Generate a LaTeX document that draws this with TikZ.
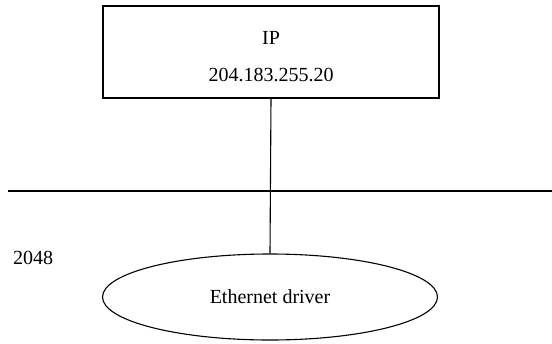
\documentclass[tikz,border=0pt]{standalone}
\usepackage{fontspec}
\setmainfont{Liberation Serif}
\usepackage{tikz}
\usetikzlibrary{shapes.geometric}

\tikzset{
  wire/.style={line width=1.1pt},
  lbl/.style={font=\fontsize{20}{24}\selectfont, inner sep=0pt}
}

\begin{document}
\begin{tikzpicture}[x=1pt, y=-1pt]
\useasboundingbox (0, 0) rectangle (552, 343);
% IP layer box
\node[draw, wire, minimum width=336pt, minimum height=92pt] (ipbox) at (271, 52) {};
\node[lbl] (iptext) at (271, 38) {IP};
\node[lbl] (ipaddr) at (271, 75) {204.183.255.20};
% bus line
\coordinate (busl) at (8, 191);
\coordinate (busr) at (552, 191);
\draw[wire] (busl) -- (busr);
% driver
\node[draw, wire, ellipse, inner sep=0pt, minimum width=335pt, minimum height=86pt, lbl] (eth) at (270, 297) {Ethernet driver};
\node[lbl] (frame) at (33, 258) {2048};
\draw[wire] (ipbox.south) -- (eth.north);
\end{tikzpicture}
\end{document}
